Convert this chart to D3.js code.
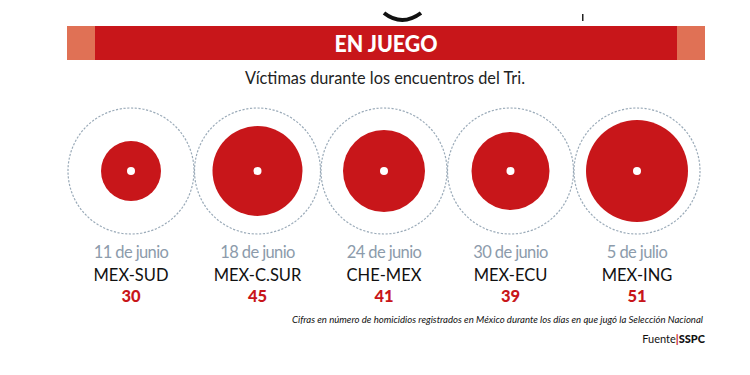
<!DOCTYPE html>
<html><head><meta charset="utf-8">
<script src="https://cdn.jsdelivr.net/npm/d3@7"></script>
<style>html,body{margin:0;padding:0;background:#fff;}svg{display:block;}</style>
</head><body>
<script>
const dates = ["11 de junio","18 de junio","24 de junio","30 de junio","5 de julio"];
const matches = ["MEX-SUD","MEX-C.SUR","CHE-MEX","MEX-ECU","MEX-ING"];
const values = [30,45,41,39,51];
const title = "EN JUEGO";
const subtitle = "Víctimas durante los encuentros del Tri.";
const note = "Cifras en número de homicidios registrados en México durante los días en que jugó la Selección Nacional";

const W = 750, H = 375;
const RED = "#c8161a";
const svg = d3.select("body").append("svg").attr("width", W).attr("height", H);
const font = "Lato, 'Open Sans', sans-serif";

// partial logo at top
svg.append("path").attr("d", "M384,13 Q402,27 421,13").attr("fill","none").attr("stroke","#111").attr("stroke-width",4);
svg.append("rect").attr("x",582).attr("y",14).attr("width",1.5).attr("height",7).attr("fill","#222");

// banner
svg.append("rect").attr("x",67).attr("y",26).attr("width",638).attr("height",34).attr("fill","#e07155");
svg.append("rect").attr("x",95).attr("y",26).attr("width",582).attr("height",34).attr("fill",RED);
svg.append("text").attr("x",386).attr("y",52).attr("text-anchor","middle")
  .attr("font-family",font).attr("font-weight",900).attr("font-size",22)
  .attr("textLength",103).attr("lengthAdjust","spacingAndGlyphs")
  .attr("fill","#fff").text(title);

svg.append("text").attr("x",385).attr("y",84).attr("text-anchor","middle")
  .attr("font-family",font).attr("font-size",17.5)
  .attr("textLength",280).attr("lengthAdjust","spacingAndGlyphs")
  .attr("fill","#222").text(subtitle);

const x = d3.scalePoint().domain(matches).range([131, 637]);
const r = d3.scaleLinear().domain([0, 60]).range([0, 60]);
const cy = 171;

const g = svg.append("g").selectAll("g").data(matches.map((m,i)=>({m, d:dates[i], v:values[i]})))
  .join("g").attr("transform", d => `translate(${x(d.m)},0)`);

g.append("circle").attr("cy",cy).attr("r",63).attr("fill","none")
  .attr("stroke","#9aaab8").attr("stroke-width",1.2).attr("stroke-dasharray","2.2,1.6");
g.append("circle").attr("cy",cy).attr("r",d=>r(d.v)).attr("fill",RED);
g.append("circle").attr("cy",cy).attr("r",4).attr("fill","#fff");

g.append("text").attr("y",258).attr("text-anchor","middle").attr("font-family",font)
  .attr("font-size",16.5).attr("letter-spacing",-0.6).attr("fill","#8c9bab").text(d=>d.d);
g.append("text").attr("y",281).attr("text-anchor","middle").attr("font-family",font)
  .attr("font-size",16.5).attr("fill","#111").text(d=>d.m);
g.append("text").attr("y",302).attr("text-anchor","middle").attr("font-family",font)
  .attr("font-weight",900).attr("font-size",16.5).attr("fill",RED).text(d=>d.v);

svg.append("text").attr("x",703).attr("y",323).attr("text-anchor","end")
  .attr("font-family",font).attr("font-style","italic").attr("font-size",9.5)
  .attr("textLength",411).attr("lengthAdjust","spacingAndGlyphs")
  .attr("fill","#111").text(note);

const src = svg.append("text").attr("x",705).attr("y",343).attr("text-anchor","end")
  .attr("font-family",font).attr("font-size",11).attr("fill","#111");
src.append("tspan").text("Fuente");
src.append("tspan").attr("fill",RED).attr("font-weight",700).text("|");
src.append("tspan").attr("font-weight",900).text("SSPC");
</script>
</body></html>
